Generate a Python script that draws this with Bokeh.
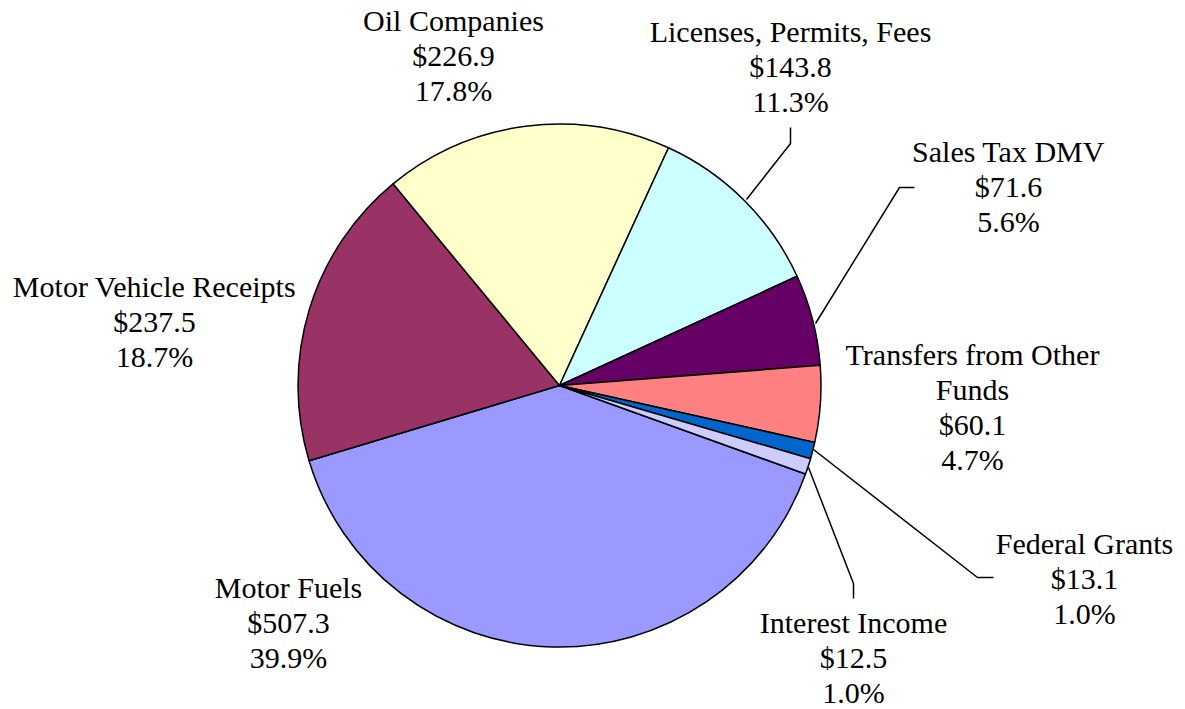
import math
from bokeh.plotting import figure
from bokeh.models import Range1d
from bokeh.core.properties import value
from bokeh.embed import file_html
from bokeh.resources import INLINE

# ---- data ----
categories = ["Motor Fuels", "Motor Vehicle Receipts", "Oil Companies",
              "Licenses, Permits, Fees", "Sales Tax DMV",
              "Transfers from Other\nFunds", "Federal Grants", "Interest Income"]
amounts = [507.3, 237.5, 226.9, 143.8, 71.6, 60.1, 13.1, 12.5]
colors = ["#9999FF", "#993366", "#FFFFCC", "#CCFFFF", "#660066",
          "#FF8080", "#0066CC", "#CCCCFF"]

# ---- layout (pixel-like coordinates, y negative downward) ----
CX, CY, R = 559, -385, 261.5
START_DEG = -19.8  # first slice starts here, slices go clockwise
label_pos = [(288, -587), (154, -286), (453, -20), (790, -31),
             (1008, -151), (972, -354), (1084, -543), (853, -622)]
LINE_H = 35
leaders = {
    3: [(746, -199), (790, -143), (790, -127)],
    4: [(815, -323), (899, -187), (914, -187)],
    6: [(813, -449), (977, -577), (993, -577)],
    7: [(808, -467), (853, -583), (853, -598)],
}

FONT = "Liberation Serif"
FSIZE = "30px"

p = figure(width=1185, height=709, output_backend="svg", toolbar_location=None,
           x_range=Range1d(0, 1185), y_range=Range1d(-709, 0),
           min_border=0, outline_line_color=None)
p.axis.visible = False
p.grid.visible = False
p.background_fill_color = "white"

total = sum(amounts)
cum = 0.0
starts, ends = [], []
for a in amounts:
    span = a / total * 2 * math.pi
    top = math.radians(START_DEG) - cum
    starts.append(top - span)
    ends.append(top)
    cum += span

p.wedge(x=[CX] * len(amounts), y=[CY] * len(amounts), radius=R,
        start_angle=starts, end_angle=ends, fill_color=colors,
        line_color="black", line_width=1.5)

for idx, pts in leaders.items():
    p.line([q[0] for q in pts], [q[1] for q in pts], line_color="black", line_width=1.5)

tx, ty, tt = [], [], []
for i, (name, a) in enumerate(zip(categories, amounts)):
    lines = name.split("\n") + [f"${a:.1f}", f"{a / total * 100:.1f}%"]
    x0, y0 = label_pos[i]
    for k, ln in enumerate(lines):
        tx.append(x0)
        ty.append(y0 - k * LINE_H)
        tt.append(ln)

p.text(x=tx, y=ty, text=tt, text_align="center", text_baseline="middle",
       text_font=value(FONT), text_font_size=FSIZE, text_color="black")

open("out.html", "w").write(file_html(p, INLINE))
